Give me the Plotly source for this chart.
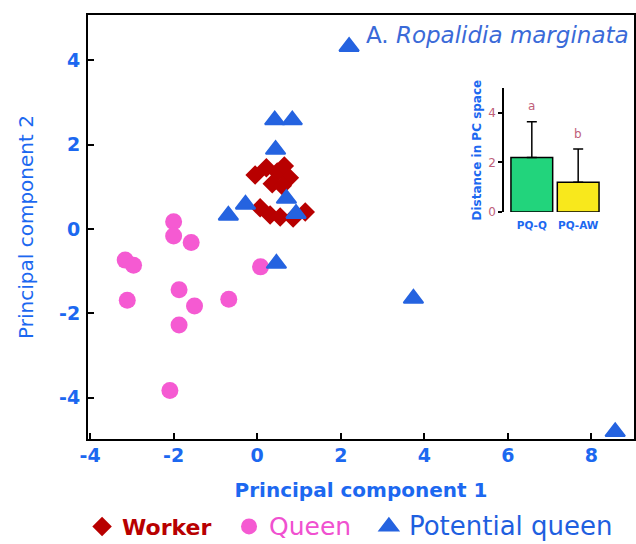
import plotly.graph_objects as go

# ---- data ----
worker_x = [-0.05, 0.22, 0.48, 0.65, 0.77, 0.36, 0.60, 0.07, 0.31, 0.55, 0.86, 1.15]
worker_y = [1.28, 1.45, 1.35, 1.49, 1.21, 1.07, 1.02, 0.50, 0.33, 0.28, 0.26, 0.40]

queen_x = [-2.00, -2.00, -1.58, -3.16, -2.96, 0.08, -3.11, -1.87, -1.50, -0.68, -1.87, -2.09]
queen_y = [0.17, -0.17, -0.32, -0.74, -0.86, -0.90, -1.69, -1.44, -1.83, -1.67, -2.28, -3.83]

pq_x = [2.20, 0.42, 0.84, 0.44, -0.69, -0.28, 0.70, 0.93, 0.46, 3.74, 8.57]
pq_y = [4.32, 2.58, 2.58, 1.88, 0.32, 0.58, 0.72, 0.36, -0.82, -1.65, -4.81]

inset_categories = ["PQ-Q", "PQ-AW"]
inset_means = [2.2, 1.2]
inset_err_up = [1.45, 1.35]
inset_letters = ["a", "b"]
inset_letter_y = [4.3, 3.15]

x_ticks = [-4, -2, 0, 2, 4, 6, 8]
x_tick_labels = ["-4", "-2", "0", "2", "4", "6", "8"]
y_ticks = [-4, -2, 0, 2, 4]
y_tick_labels = ["-4", "-2", "0", "2", "4"]

# ---- colours ----
RED = "#b80000"
PINK = "#f55ad2"
BLUE = "#2563e0"
TXT_BLUE = "#1c68f0"
MAUVE = "#c0607a"

PAD = '<span style="font-size:20px">&nbsp;&nbsp;</span>'

fig = go.Figure()

fig.add_trace(go.Scatter(
    x=worker_x, y=worker_y, mode="markers",
    name='<span style="color:#b80000;font-size:22px"><b>Worker</b></span>' + PAD,
    marker=dict(symbol="diamond", size=15, color=RED, line=dict(width=0)),
))
fig.add_trace(go.Scatter(
    x=queen_x, y=queen_y, mode="markers",
    name='<span style="color:#f050d0;font-size:25px">Queen</span>' + PAD,
    marker=dict(symbol="circle", size=17, color=PINK, line=dict(width=0)),
))
fig.add_trace(go.Scatter(
    x=pq_x, y=pq_y, mode="markers",
    name='<span style="color:#1f5fe0;font-size:26px">Potential queen</span>',
    marker=dict(symbol="triangle-up", size=17, color=BLUE, line=dict(width=2, color=BLUE)),
))

# inset bar chart
fig.add_trace(go.Bar(
    x=[0, 1], y=inset_means, xaxis="x2", yaxis="y2", width=0.9,
    marker=dict(color=["#22d47c", "#f8e81c"], line=dict(color="black", width=1.5)),
    error_y=dict(type="data", array=inset_err_up, arrayminus=[0, 0], symmetric=False,
                 color="black", thickness=1.5, width=5),
    showlegend=False,
))

for i, (lt, ly) in enumerate(zip(inset_letters, inset_letter_y)):
    fig.add_annotation(x=i, y=ly, xref="x2", yref="y2", text=lt, showarrow=False,
                       font=dict(family="DejaVu Sans", size=12, color=MAUVE))

fig.add_annotation(
    x=0.995, y=0.953, xref="paper", yref="paper", xanchor="right", yanchor="middle",
    text="A. <i>Ropalidia marginata</i>", showarrow=False,
    font=dict(family="DejaVu Sans", size=23, color="#3a6ad8"),
)

fig.update_layout(
    width=636, height=544,
    margin=dict(l=88, r=2, t=15, b=105, autoexpand=False),
    paper_bgcolor="white", plot_bgcolor="white",
    showlegend=True,
    legend=dict(orientation="h", xref="container", yref="container",
                x=0.129, xanchor="left", y=0.032, yanchor="middle",
                font=dict(family="DejaVu Sans", size=22), itemsizing="trace",
                traceorder="normal", bgcolor="rgba(0,0,0,0)"),
    xaxis=dict(
        range=[-4.05, 9.02], tickvals=x_ticks, ticktext=x_tick_labels,
        showgrid=False, zeroline=False,
        showline=True, mirror=True, linecolor="black", linewidth=2,
        ticks="inside", ticklen=6, tickwidth=2, tickcolor="black", ticklabelstandoff=-2,
        tickfont=dict(family="DejaVu Sans", size=19, color=TXT_BLUE, weight="bold"),
        title=dict(text="<b>Principal component 1</b>", standoff=18,
                   font=dict(family="DejaVu Sans", size=20, color=TXT_BLUE)),
    ),
    yaxis=dict(
        range=[-4.98, 5.07], tickvals=y_ticks, ticktext=y_tick_labels,
        showgrid=False, zeroline=False,
        showline=True, mirror=True, linecolor="black", linewidth=2,
        ticks="inside", ticklen=6, tickwidth=2, tickcolor="black", ticklabelstandoff=2,
        tickfont=dict(family="DejaVu Sans", size=19, color=TXT_BLUE, weight="bold"),
        title=dict(text="Principal component 2", standoff=20,
                   font=dict(family="DejaVu Sans", size=20, color=TXT_BLUE)),
    ),
    xaxis2=dict(
        domain=[0.7619, 0.9487], anchor="y2", range=[-0.6, 1.6],
        tickvals=[0, 1], ticktext=inset_categories, showgrid=False, zeroline=False,
        showline=False, ticks="", ticklabelstandoff=6,
        tickfont=dict(family="DejaVu Sans", size=10.5, color=TXT_BLUE, weight="bold"),
    ),
    yaxis2=dict(
        domain=[0.5354, 0.8272], anchor="x2", range=[0, 5],
        tickvals=[0, 2, 4], showgrid=False, zeroline=False,
        showline=True, linecolor="black", linewidth=1.5,
        ticks="outside", ticklen=4, tickwidth=1.5, tickcolor="black",
        tickfont=dict(family="DejaVu Sans", size=12, color=MAUVE),
        title=dict(text="<b>Distance in PC space</b>", standoff=4,
                   font=dict(family="DejaVu Sans", size=12, color=TXT_BLUE)),
    ),
)

fig.write_html(
    "out.html",
    config={"displayModeBar": False},
    post_script="document.body.style.margin='0';document.body.style.overflow='hidden';",
)
